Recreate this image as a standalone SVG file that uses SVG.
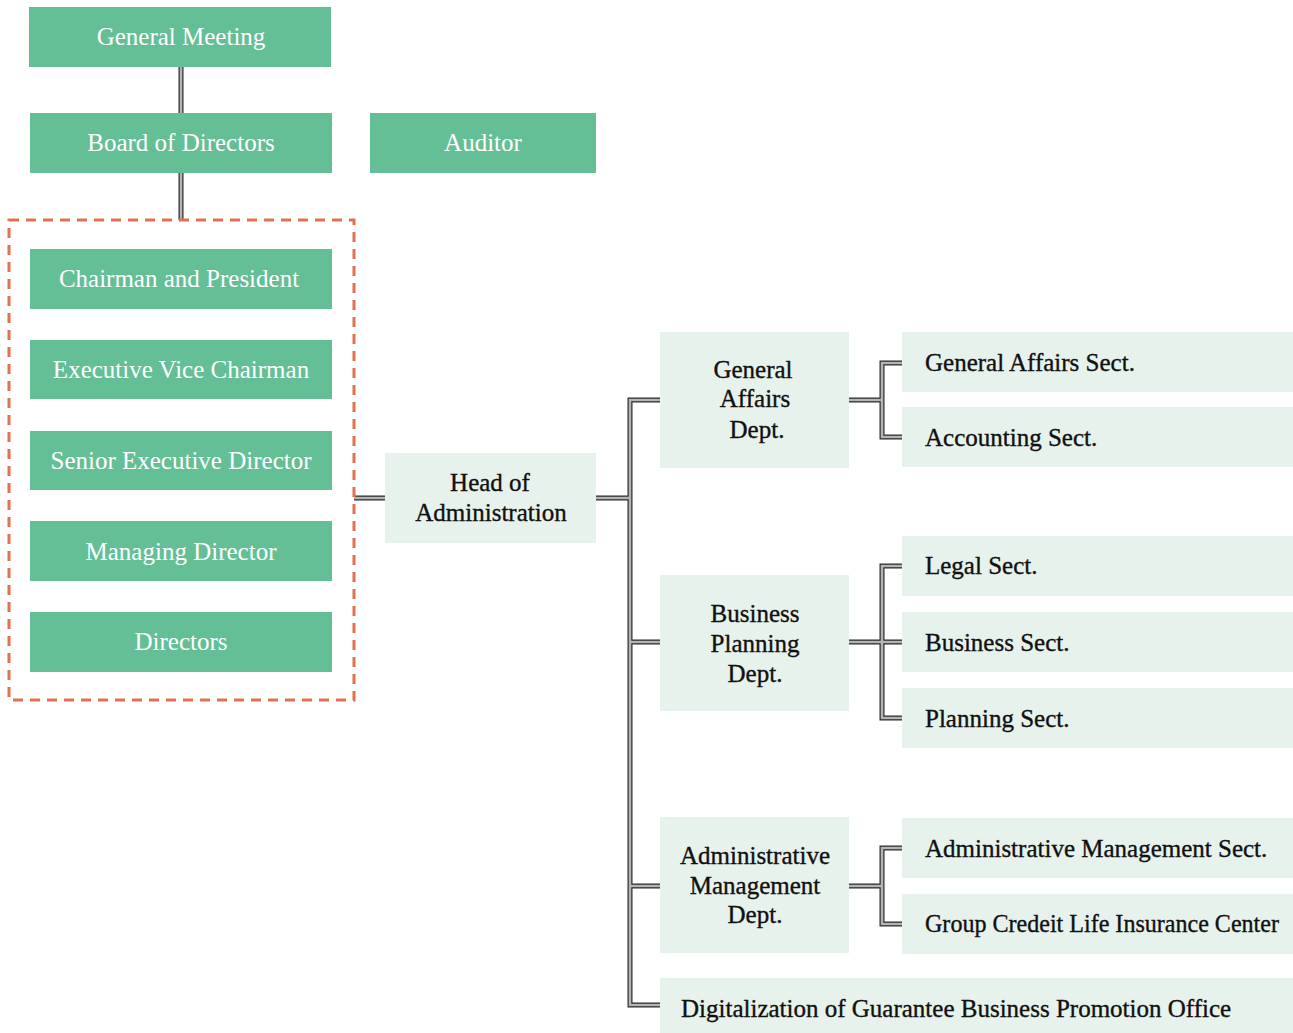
<svg xmlns="http://www.w3.org/2000/svg" width="1293" height="1033" viewBox="0 0 1293 1033">
<style>
.g{fill:#64bf97}
.l{fill:#e7f2ec}
.tw{font-family:"Liberation Serif",serif;font-size:25px;fill:#ffffff;text-anchor:middle}
.tb{font-family:"Liberation Serif",serif;font-size:25px;fill:#111111;stroke:#111111;stroke-width:0.35}
.c{text-anchor:middle}
.co{fill:none;stroke:#2a2a2a;stroke-width:5}
.ci{fill:none;stroke:#b4b4b4;stroke-width:2.6}
</style>
<rect width="1293" height="1033" fill="#ffffff"/>
<g id="connectors">
<g class="co">
<path d="M181 67V113M181 173V220M354 498H385M596 498H630M660 400H630V1005H660M630 642H660M630 886H660"/>
<path d="M849 400H882M902 363H882V437H902"/>
<path d="M849 642H882M902 566H882V718H902M882 642H902"/>
<path d="M849 886H882M902 848H882V924H902"/>
</g>
<g class="ci">
<path d="M181 67V113M181 173V220M354 498H385M596 498H630M660 400H630V1005H660M630 642H660M630 886H660"/>
<path d="M849 400H882M902 363H882V437H902"/>
<path d="M849 642H882M902 566H882V718H902M882 642H902"/>
<path d="M849 886H882M902 848H882V924H902"/>
</g>
</g>
<g id="officers-box"><rect x="9" y="220" width="345" height="480" fill="none" stroke="#e2714f" stroke-width="3" stroke-dasharray="10,7"/></g>
<g id="general-meeting"><rect class="g" x="29" y="7" width="302" height="60"/><text class="tw" x="181" y="45">General Meeting</text></g>
<g id="board"><rect class="g" x="30" y="113" width="302" height="60"/><text class="tw" x="181" y="151">Board of Directors</text></g>
<g id="auditor"><rect class="g" x="370" y="113" width="226" height="60"/><text class="tw" x="483" y="151">Auditor</text></g>
<g id="chairman"><rect class="g" x="30" y="249" width="302" height="60"/><text class="tw" x="179" y="287">Chairman and President</text></g>
<g id="evc"><rect class="g" x="30" y="340" width="302" height="59"/><text class="tw" x="181" y="378">Executive Vice Chairman</text></g>
<g id="sed"><rect class="g" x="30" y="431" width="302" height="59"/><text class="tw" x="181" y="469">Senior Executive Director</text></g>
<g id="md"><rect class="g" x="30" y="521" width="302" height="60"/><text class="tw" x="181" y="560">Managing Director</text></g>
<g id="directors"><rect class="g" x="30" y="612" width="302" height="60"/><text class="tw" x="181" y="650">Directors</text></g>
<g id="head"><rect class="l" x="385" y="453" width="211" height="90"/><text class="tb c" x="490" y="491">Head of</text><text class="tb c" x="491" y="521">Administration</text></g>
<g id="ga-dept"><rect class="l" x="660" y="332" width="189" height="136"/><text class="tb c" x="753" y="378">General</text><text class="tb c" x="755" y="407">Affairs</text><text class="tb c" x="757" y="438">Dept.</text></g>
<g id="bp-dept"><rect class="l" x="660" y="575" width="189" height="136"/><text class="tb c" x="755" y="622">Business</text><text class="tb c" x="755" y="652">Planning</text><text class="tb c" x="755" y="682">Dept.</text></g>
<g id="am-dept"><rect class="l" x="660" y="817" width="189" height="136"/><text class="tb c" x="755" y="864">Administrative</text><text class="tb c" x="755" y="894">Management</text><text class="tb c" x="755" y="923">Dept.</text></g>
<g id="digital"><rect class="l" x="660" y="978" width="633" height="55"/><text class="tb" x="681" y="1017">Digitalization of Guarantee Business Promotion Office</text></g>
<g id="ga-sect"><rect class="l" x="902" y="332" width="391" height="60"/><text class="tb" x="925" y="371">General Affairs Sect.</text></g>
<g id="acc-sect"><rect class="l" x="902" y="407" width="391" height="60"/><text class="tb" x="925" y="446">Accounting Sect.</text></g>
<g id="legal-sect"><rect class="l" x="902" y="536" width="391" height="60"/><text class="tb" x="925" y="574">Legal Sect.</text></g>
<g id="bus-sect"><rect class="l" x="902" y="612" width="391" height="60"/><text class="tb" x="925" y="651">Business Sect.</text></g>
<g id="plan-sect"><rect class="l" x="902" y="688" width="391" height="60"/><text class="tb" x="925" y="727">Planning Sect.</text></g>
<g id="am-sect"><rect class="l" x="902" y="818" width="391" height="60"/><text class="tb" x="925" y="857">Administrative Management Sect.</text></g>
<g id="gcli"><rect class="l" x="902" y="894" width="391" height="60"/><text class="tb" x="925" y="932" textLength="354" lengthAdjust="spacingAndGlyphs">Group Credeit Life Insurance Center</text></g>
</svg>
